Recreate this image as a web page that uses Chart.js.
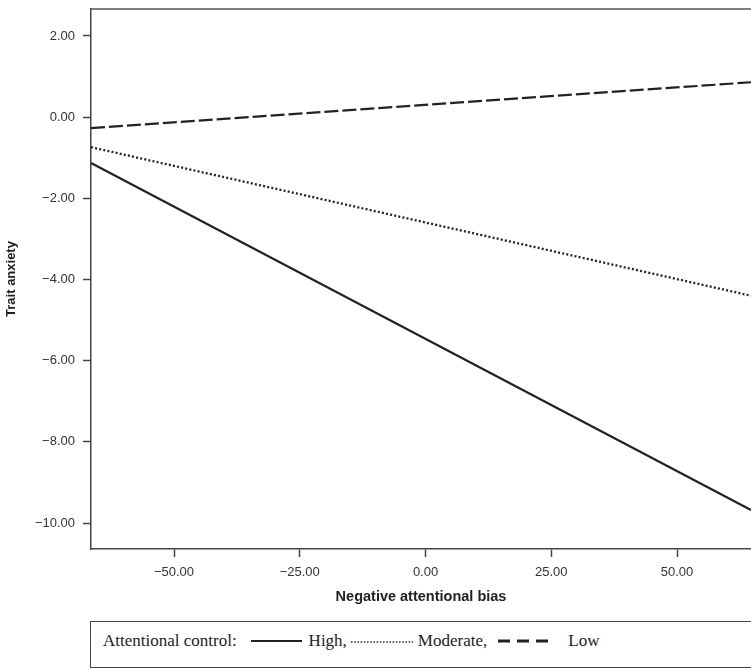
<!DOCTYPE html>
<html>
<head>
<meta charset="utf-8">
<script src="https://cdn.jsdelivr.net/npm/chart.js@4"></script>
<style>
  body { margin: 0; background: #fff; }
  #wrap { position: relative; width: 751px; height: 669px; }
  #chart { position: absolute; left: 0; top: 0; }
  #legend {
    position: absolute; left: 90px; top: 621px; width: 666px; height: 47px;
    border: 1.5px solid #444; box-sizing: border-box;
    font-family: "Liberation Serif", "Times New Roman", serif; font-size: 17px; color: #222;
    display: flex; align-items: center; padding: 0 0 8px 12px; white-space: nowrap;
  }
  #legend svg { display: block; flex: none; }
</style>
</head>
<body>
<div id="wrap">
  <canvas id="chart" width="751" height="610"></canvas>
  <div id="legend">
    <span>Attentional control:</span>
    <svg width="72" height="10"><line x1="14" y1="5" x2="65" y2="5" stroke="#222" stroke-width="2"/></svg>
    <span>High,</span>
    <svg width="71" height="10"><line x1="4" y1="6" x2="66" y2="6" stroke="#333" stroke-width="1.6" stroke-dasharray="1.6 1.6"/></svg>
    <span>Moderate,</span>
    <svg width="81" height="10"><line x1="11" y1="5" x2="61" y2="5" stroke="#222" stroke-width="3" stroke-dasharray="12 7"/></svg>
    <span>Low</span>
  </div>
</div>
<script>
// x range of negative attentional bias
var biasRange = [-66.5, 64.7];
var seriesNames = ['High', 'Moderate', 'Low'];
var highVals = [-1.13, -9.68];
var moderateVals = [-0.74, -4.40];
var lowVals = [-0.27, 0.86];
var yTicks = [2, 0, -2, -4, -6, -8, -10];
var xTicks = [-50, -25, 0, 25, 50];

function pts(vals) {
  return vals.map(function (v, i) { return { x: biasRange[i], y: v }; });
}
function fmt(v) {
  return v.toFixed(2).replace('-', '\u2212');
}

var topBorder = {
  id: 'topBorder',
  afterDraw: function (chart) {
    var a = chart.chartArea, c = chart.ctx;
    c.save();
    c.strokeStyle = '#555';
    c.lineWidth = 1.5;
    c.beginPath();
    c.moveTo(a.left, a.top);
    c.lineTo(a.right, a.top);
    c.stroke();
    c.restore();
  }
};

const ctx = document.getElementById('chart');
new Chart(ctx, {
  type: 'line',
  data: {
    datasets: [
      { label: seriesNames[0], data: pts(highVals), borderColor: '#222', borderWidth: 2.3, pointRadius: 0 },
      { label: seriesNames[1], data: pts(moderateVals), borderColor: '#222', borderWidth: 2.3, borderDash: [2, 2.2], pointRadius: 0 },
      { label: seriesNames[2], data: pts(lowVals), borderColor: '#222', borderWidth: 2.2, borderDash: [14, 4], pointRadius: 0 }
    ]
  },
  plugins: [topBorder],
  options: {
    responsive: false,
    animation: false,
    layout: { padding: { top: 9, right: 0, left: 0, bottom: 0 } },
    plugins: { legend: { display: false }, tooltip: { enabled: false } },
    scales: {
      x: {
        type: 'linear',
        min: biasRange[0],
        max: biasRange[1],
        afterBuildTicks: function (s) { s.ticks = xTicks.map(function (v) { return { value: v }; }); },
        afterFit: function (s) { s.height = 61; s.paddingLeft = 0; s.paddingRight = 0; },
        border: { color: '#444', width: 1.5 },
        grid: { drawOnChartArea: false, tickLength: 8, tickColor: '#444', tickWidth: 1.5 },
        ticks: { color: '#333', font: { family: 'Arial, "Liberation Sans"', size: 13 }, padding: 8, callback: fmt },
        title: { display: true, text: 'Negative attentional bias', color: '#222', font: { family: 'Arial, "Liberation Sans"', size: 14.5, weight: 'bold' }, padding: { top: 0 } }
      },
      y: {
        min: -10.64,
        max: 2.665,
        afterBuildTicks: function (s) { s.ticks = yTicks.map(function (v) { return { value: v }; }); },
        afterFit: function (s) { s.width = 91; s.paddingTop = 0; s.paddingBottom = 0; },
        border: { color: '#444', width: 1.5 },
        grid: { drawOnChartArea: false, tickLength: 8, tickColor: '#444', tickWidth: 1.5 },
        ticks: { color: '#333', font: { family: 'Arial, "Liberation Sans"', size: 13 }, padding: 8, callback: fmt },
        title: { display: true, text: 'Trait anxiety', color: '#222', font: { family: 'Arial, "Liberation Sans"', size: 13, weight: 'bold' }, padding: { bottom: 0 } }
      }
    }
  }
});
</script>
</body>
</html>
